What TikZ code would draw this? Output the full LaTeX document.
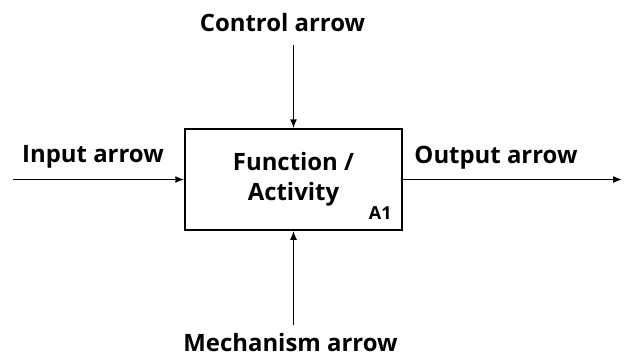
\documentclass[tikz,border=0pt]{standalone}
\usepackage{fontspec}
\setmainfont{Open Sans}
\usetikzlibrary{arrows.meta}

\begin{document}
\begin{tikzpicture}[x=1bp,y=-1bp,
  flow/.style={-{Latex[length=9bp,width=7bp]}, line width=1.4bp},
  lab/.style={font=\bfseries\fontsize{24}{28}\selectfont, inner sep=0pt}]

\useasboundingbox (0,0) rectangle (625,357);

% the activity box
\node[draw, line width=1.5bp, minimum width=217bp, minimum height=101bp,
      align=center, font=\bfseries\fontsize{24}{30}\selectfont] (func) at (293.5,179.5) {Function /\\Activity};
\node[font=\bfseries\fontsize{18}{20}\selectfont, inner sep=0pt, anchor=south east] (id)
      at ([xshift=-11bp,yshift=11bp]func.south east) {A1};

% free ends of the arrows
\coordinate (in) at (13,179.5);
\coordinate (out) at (622,179.5);
\coordinate (ctl) at (293.5,45);
\coordinate (mech) at (293.5,325);

\draw[flow] (in) -- (func.west);
\draw[flow] (func.east) -- (out);
\draw[flow] (ctl) -- (func.north);
\draw[flow] (mech) -- (func.south);

% labels
\node[lab] (inlab) at (93,157) {Input arrow};
\node[lab] (outlab) at (496,158) {Output arrow};
\node[lab] (ctllab) at (282.5,23) {Control arrow};
\node[lab] (mechlab) at (290.5,342.5) {Mechanism arrow};
\end{tikzpicture}
\end{document}
